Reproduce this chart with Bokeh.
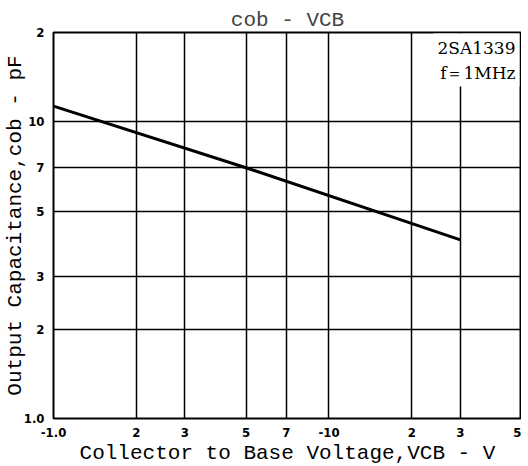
from bokeh.plotting import figure
from bokeh.models import FixedTicker, Label
from bokeh.embed import file_html
from bokeh.resources import INLINE

# data
vcb = [1.0, 5.0, 30.0]
cob = [11.3, 7.0, 4.0]

x_ticks = [1, 2, 3, 5, 7, 10, 20, 30, 50]
x_tick_labels = ["-1.0", "2", "3", "5", "7", "-10", "2", "3", "5"]
y_ticks = [1, 2, 3, 5, 7, 10, 20]
y_tick_labels = ["1.0", "2", "3", "5", "7", "10", "2"]

p = figure(x_axis_type="log", y_axis_type="log", x_range=(1, 50), y_range=(1, 20),
           frame_width=468, frame_height=386, min_border_left=46, min_border_right=0,
           min_border_top=32, min_border_bottom=38,
           output_backend="svg", toolbar_location=None,
           title="cob - VCB")

p.title.text_font = "Liberation Mono"
p.title.text_font_size = "21px"
p.title.text_font_style = "normal"
p.title.align = "center"
p.title.offset = 0
p.title.standoff = 1

p.outline_line_color = "black"
p.outline_line_width = 2
p.outline_line_alpha = 1

p.xaxis.ticker = FixedTicker(ticks=x_ticks)
p.yaxis.ticker = FixedTicker(ticks=y_ticks)
p.xaxis.major_label_overrides = {t: l for t, l in zip(x_ticks, x_tick_labels)}
p.yaxis.major_label_overrides = {t: l for t, l in zip(y_ticks, y_tick_labels)}
for ax in (p.xaxis, p.yaxis):
    ax.axis_line_color = None
    ax.major_tick_line_color = None
    ax.minor_tick_line_color = None
    ax.major_label_text_font = "DejaVu Sans Condensed"
    ax.major_label_text_font_style = "bold"
    ax.major_label_text_font_size = "13px"
    ax.major_label_text_color = "black"
    ax.axis_label_text_font = "Liberation Mono"
    ax.axis_label_text_font_size = "21px"
    ax.axis_label_text_font_style = "normal"
    ax.axis_label_text_color = "black"
p.xaxis.major_label_standoff = 3
p.yaxis.major_label_standoff = 3
p.xaxis.axis_label = "Collector to Base Voltage,VCB - V"
p.yaxis.axis_label = "Output Capacitance,cob - pF"
p.xaxis.axis_label_standoff = 2
p.yaxis.axis_label_standoff = -6

p.xgrid.ticker = FixedTicker(ticks=x_ticks)
p.ygrid.ticker = FixedTicker(ticks=y_ticks)
for g in (p.xgrid, p.ygrid):
    g.grid_line_color = "black"
    g.grid_line_width = 1.5
    g.grid_line_alpha = 1

p.line(vcb, cob, line_color="black", line_width=3)

lab = Label(x=50, y=20, x_offset=-2, y_offset=-1, text="2SA1339\nf＝1MHz",
            text_align="right", text_baseline="top",
            text_font="DejaVu Serif", text_font_size="17px", text_color="black",
            text_line_height=1.25,
            background_fill_color="white", background_fill_alpha=1,
            padding=4)
p.add_layout(lab)

open("out.html", "w").write(file_html(p, INLINE))
